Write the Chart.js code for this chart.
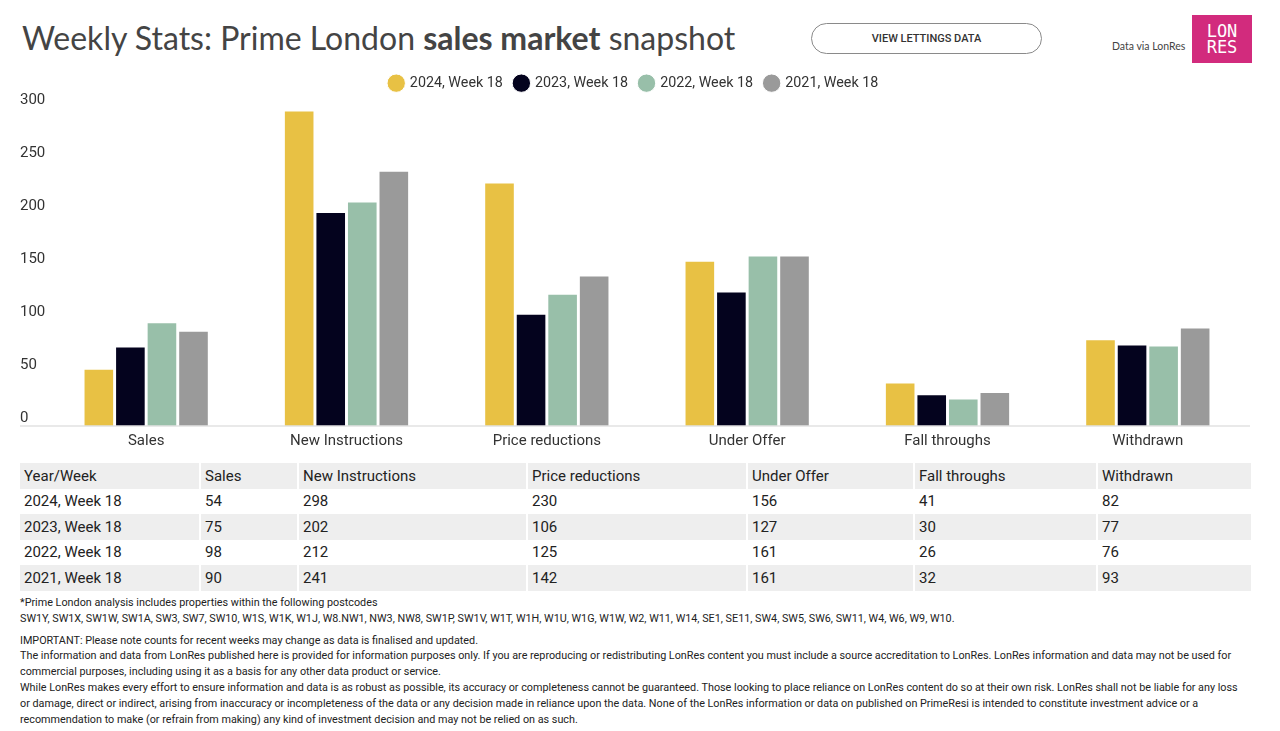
<!DOCTYPE html>
<html>
<head>
<meta charset="utf-8">
<script src="https://cdn.jsdelivr.net/npm/chart.js@4"></script>
<style>
  body { margin: 0; width: 1280px; height: 731px; background: #fff; font-family: Roboto, sans-serif; color: #222; position: relative; overflow: hidden; }
  #title { position: absolute; left: 22px; top: 18px; font-family: Lato, sans-serif; font-size: 32px; color: #444; white-space: nowrap; }
  #title b { font-weight: 700; }
  #btn { position: absolute; left: 811px; top: 23px; width: 229px; height: 29px; border: 1.5px solid #8a8a8a; border-radius: 16px; font-size: 11px; font-weight: 500; color: #333; text-align: center; line-height: 29px; }
  #via { position: absolute; left: 1112px; top: 40px; font-family: Lato, sans-serif; font-size: 10.5px; color: #444; white-space: nowrap; }
  #logo { position: absolute; left: 1192px; top: 15px; width: 60px; height: 48px; background: #d22b7d; color: #fff; font-family: "DejaVu Sans Mono", monospace; font-size: 17px; line-height: 16px; text-align: center; padding-top: 8px; box-sizing: border-box; }
  #wrap { position: absolute; left: 12px; top: 64px; width: 1248px; height: 394px; }
  table { position: absolute; left: 20px; top: 463px; width: 1231px; border-collapse: collapse; table-layout: fixed; font-size: 15px; color: #222; }
  td, th { height: 25.5px; padding: 0 0 0 4px; text-align: left; font-weight: 400; border-left: 2px solid #fff; white-space: nowrap; }
  td:first-child, th:first-child { border-left: none; }
  tr:nth-child(odd) { background: #eeeeee; }
  #notes { position: absolute; left: 20px; top: 595px; width: 1250px; font-size: 10.8px; line-height: 15.8px; color: #222; white-space: nowrap; }
  #notes p { margin: 0 0 6px 0; }
</style>
</head>
<body>
<div id="title">Weekly Stats: Prime London <b>sales market</b> snapshot</div>
<div id="btn">VIEW LETTINGS DATA</div>
<div id="via">Data via LonRes</div>
<div id="logo">LON<br>RES</div>
<div id="wrap"><canvas id="chart"></canvas></div>
<table id="tbl"></table>
<div id="notes">
  <p>*Prime London analysis includes properties within the following postcodes<br>SW1Y, SW1X, SW1W, SW1A, SW3, SW7, SW10, W1S, W1K, W1J, W8.NW1, NW3, NW8, SW1P, SW1V, W1T, W1H, W1U, W1G, W1W, W2, W11, W14, SE1, SE11, SW4, SW5, SW6, SW11, W4, W6, W9, W10.</p>
  <p>IMPORTANT: Please note counts for recent weeks may change as data is finalised and updated.<br>The information and data from LonRes published here is provided for information purposes only. If you are reproducing or redistributing LonRes content you must include a source accreditation to LonRes. LonRes information and data may not be used for<br>commercial purposes, including using it as a basis for any other data product or service.<br>While LonRes makes every effort to ensure information and data is as robust as possible, its accuracy or completeness cannot be guaranteed. Those looking to place reliance on LonRes content do so at their own risk. LonRes shall not be liable for any loss<br>or damage, direct or indirect, arising from inaccuracy or incompleteness of the data or any decision made in reliance upon the data. None of the LonRes information or data on published on PrimeResi is intended to constitute investment advice or a<br>recommendation to make (or refrain from making) any kind of investment decision and may not be relied on as such.</p>
</div>
<script>
const categories = ['Sales', 'New Instructions', 'Price reductions', 'Under Offer', 'Fall throughs', 'Withdrawn'];
const seriesNames = ['2024, Week 18', '2023, Week 18', '2022, Week 18', '2021, Week 18'];
const week2024 = [54, 298, 230, 156, 41, 82];
const week2023 = [75, 202, 106, 127, 30, 77];
const week2022 = [98, 212, 125, 161, 26, 76];
const week2021 = [90, 241, 142, 161, 32, 93];
const yTicks = [0, 50, 100, 150, 200, 250, 300];
const colours = ['#e8c144', '#04031e', '#98bfa9', '#9a9a9a'];
const allSeries = [week2024, week2023, week2022, week2021];

// table below the chart
const tbl = document.getElementById('tbl');
const widths = [180, 98, 229, 220, 167, 183, 154];
let html = '<colgroup>' + widths.map(w => `<col style="width:${w}px">`).join('') + '</colgroup>';
html += '<tr><th>Year/Week</th>' + categories.map(c => `<th>${c}</th>`).join('') + '</tr>';
seriesNames.forEach((name, i) => {
  html += `<tr><td>${name}</td>` + allSeries[i].map(v => `<td>${v}</td>`).join('') + '</tr>';
});
tbl.innerHTML = html;

const baseline = {
  id: 'baseline',
  afterDraw(chart) {
    const ctx = chart.ctx;
    const y = chart.scales.y.getPixelForValue(0);
    ctx.save();
    ctx.strokeStyle = '#e2e2e2';
    ctx.lineWidth = 1.5;
    ctx.beginPath();
    ctx.moveTo(8, y);
    ctx.lineTo(1238, y);
    ctx.stroke();
    ctx.restore();
  }
};

// extra room under the legend
const legendGap = {
  id: 'legendGap',
  beforeInit(chart) {
    const fit = chart.legend.fit;
    chart.legend.fit = function () {
      fit.bind(chart.legend)();
      this.height += 8;
    };
  }
};

new Chart(document.getElementById('chart'), {
  type: 'bar',
  data: {
    labels: categories,
    datasets: seriesNames.map((name, i) => ({
      label: name,
      data: allSeries[i],
      backgroundColor: colours[i],
      borderColor: '#ffffff',
      borderWidth: 1,
      categoryPercentage: 0.63,
      barPercentage: 0.97
    }))
  },
  options: {
    responsive: true,
    maintainAspectRatio: false,
    animation: false,
    layout: { padding: { left: 8, right: 12, top: 0, bottom: 0 } },
    plugins: {
      tooltip: { enabled: false },
      legend: {
        position: 'top',
        labels: {
          usePointStyle: true,
          pointStyle: 'circle',
          boxWidth: 13,
          boxHeight: 13,
          padding: 12,
          color: '#333',
          font: { family: 'Roboto', size: 14.3 }
        }
      }
    },
    scales: {
      x: {
        grid: { display: false },
        border: { display: false },
        ticks: { color: '#333', padding: -2, font: { family: 'Roboto', size: 15 } },
        afterFit(s) { s.height = 32; }
      },
      y: {
        min: 0,
        max: 300,
        grid: { display: false },
        border: { display: false },
        afterBuildTicks(s) { s.ticks = yTicks.map(v => ({ value: v })); },
        ticks: { color: '#333', crossAlign: 'far', padding: 2, labelOffset: -8, font: { family: 'Roboto', size: 15 } },
        afterFit(s) { s.width = 26; }
      }
    }
  },
  plugins: [baseline, legendGap]
});
</script>
</body>
</html>
